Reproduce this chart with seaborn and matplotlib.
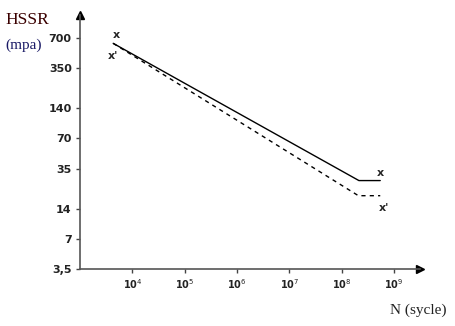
import matplotlib
matplotlib.use("Agg")
import matplotlib.pyplot as plt
import seaborn as sns
import pandas as pd

# S-N curve points
cycles_x = [4.3e3, 2.15e8, 5.5e8]
stress_x = [620, 26.6, 26.6]
cycles_xp = [4.3e3, 2.1e8, 5.5e8]
stress_xp = [620, 18.8, 18.8]

yticks = [3.5, 7, 14, 35, 70, 140, 350, 700]
ytick_labels = ["3,5", "7", "14", "35", "70", "140", "350", "700"]
xticks = [1e4, 1e5, 1e6, 1e7, 1e8, 1e9]
xtick_labels = ["10$^4$", "10$^5$", "10$^6$", "10$^7$", "10$^8$", "10$^9$"]

df = pd.DataFrame({
    "N": cycles_x + cycles_xp,
    "S": stress_x + stress_xp,
    "curve": ["x"] * 3 + ["x'"] * 3,
})

sns.set_style("white")
fig = plt.figure(figsize=(4.55, 3.26), dpi=100)
ax = fig.add_axes([0.176, 0.175, 0.747, 0.779])

sns.lineplot(data=df, x="N", y="S", style="curve", color="black",
             linewidth=1.0, legend=False, ax=ax,
             dashes={"x": "", "x'": (3, 3)}, sort=False)

ax.set_xscale("log")
ax.set_yscale("log")
ax.set_xlim(1e3, 10**9.5)
ax.set_ylim(3.5, 10**3.075)
ax.minorticks_off()
ax.set_xticks(xticks)
ax.set_xticklabels(xtick_labels, fontsize=7, fontweight="bold", color="#222222")
ax.set_yticks(yticks)
ax.set_yticklabels(ytick_labels, fontsize=8, fontweight="bold", color="#222222")
ax.tick_params(axis="both", direction="out", length=3, width=1, color="#444444",
               bottom=True, left=True, pad=3)
ax.set_xlabel("")
ax.set_ylabel("")

for side in ["top", "right"]:
    ax.spines[side].set_visible(False)
for side in ["left", "bottom"]:
    ax.spines[side].set_color("#555555")
    ax.spines[side].set_linewidth(1.2)

# arrow heads on the axes
ax.plot(1, 0, ">k", transform=ax.transAxes, clip_on=False, markersize=6)
ax.plot(0, 1, "^k", transform=ax.transAxes, clip_on=False, markersize=6)

# curve labels
ax.text(4.9e3, 750, "x", fontsize=8, fontweight="bold", ha="center", va="center")
ax.text(4.3e3, 462, "x'", fontsize=8, fontweight="bold", ha="center", va="center")
ax.text(5.6e8, 32, "x", fontsize=8, fontweight="bold", ha="center", va="center")
ax.text(6.6e8, 14.3, "x'", fontsize=8, fontweight="bold", ha="center", va="center")

fig.text(5 / 455, 1 - 20 / 326, "HSSR", fontsize=12.5, family="Liberation Serif",
         color="#3a0000", va="center")
fig.text(5 / 455, 1 - 45 / 326, "(mpa)", fontsize=11, family="Liberation Serif",
         color="#1a1a66", va="center")
fig.text(390 / 455, 1 - 310 / 326, "N (sycle)", fontsize=11, family="Liberation Serif",
         color="#222222", va="center")

fig.savefig("out.png", dpi=100)
